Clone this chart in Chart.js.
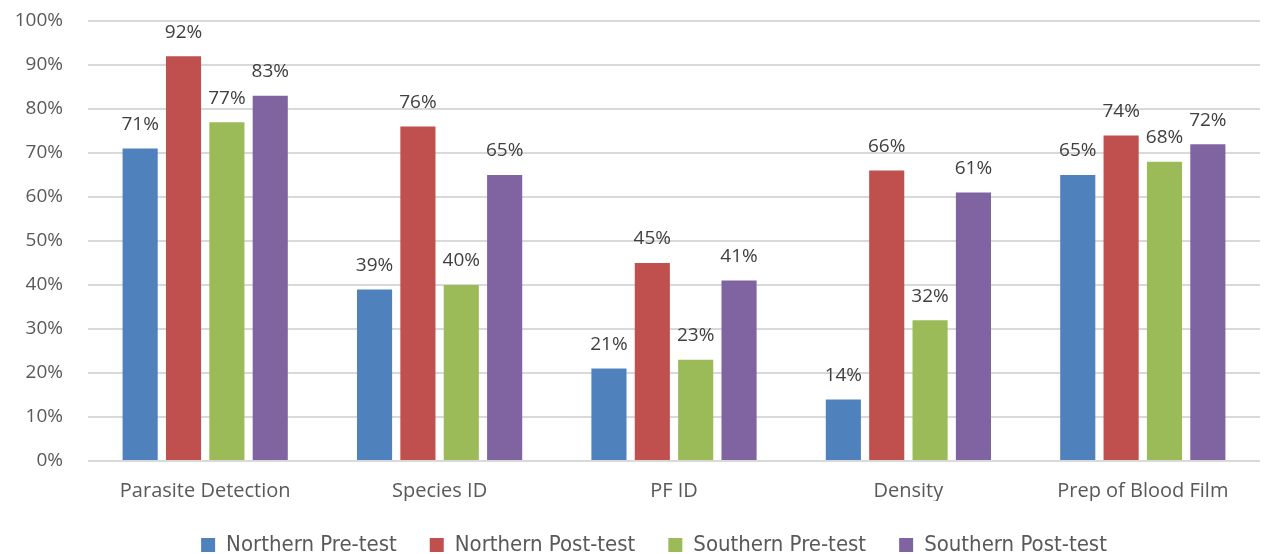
<!DOCTYPE html>
<html lang="en">
<head>
<meta charset="UTF-8" />
<title>Skill scores by region</title>
<script src="https://cdn.jsdelivr.net/npm/chart.js"></script>
<style>
  html, body { margin: 0; padding: 0; background: #fff; overflow: hidden; }
  #wrap { width: 1267px; height: 566px; }
</style>
</head>
<body>
<div id="wrap"><canvas id="scores"></canvas></div>
<script>
const categories = ["Parasite Detection", "Species ID", "PF ID", "Density", "Prep of Blood Film"];
const northernPre = [71, 39, 21, 14, 65];
const northernPost = [92, 76, 45, 66, 74];
const southernPre = [77, 40, 23, 32, 68];
const southernPost = [83, 65, 41, 61, 72];
const seriesNames = ["Northern Pre-test", "Northern Post-test", "Southern Pre-test", "Southern Post-test"];
const seriesColors = ["#4F81BD", "#C0504D", "#9BBB59", "#8064A2"];

const FONT = "'Open Sans', 'Noto Sans', sans-serif";

// percent labels over each bar
const valueLabels = {
  id: "valueLabels",
  afterDatasetsDraw(chart) {
    const ctx = chart.ctx;
    ctx.save();
    ctx.font = "19px " + FONT;
    ctx.fillStyle = "#404040";
    ctx.textAlign = "center";
    ctx.textBaseline = "middle";
    chart.data.datasets.forEach((ds, i) => {
      chart.getDatasetMeta(i).data.forEach((bar, j) => {
        ctx.fillText(ds.data[j] + "%", bar.x, bar.y - 24);
      });
    });
    ctx.restore();
  }
};

// nudge the legend row a bit to the right
const legendShift = {
  id: "legendShift",
  afterLayout(chart) {
    chart.legend.left += 24;
    chart.legend.right += 24;
  }
};

const allSeries = [northernPre, northernPost, southernPre, southernPost];

new Chart(document.getElementById("scores"), {
  type: "bar",
  data: {
    labels: categories,
    datasets: allSeries.map((vals, i) => ({
      label: seriesNames[i],
      data: vals,
      backgroundColor: seriesColors[i],
      barPercentage: 0.81,
      categoryPercentage: 0.74
    }))
  },
  options: {
    responsive: true,
    maintainAspectRatio: false,
    animation: false,
    layout: { padding: { top: 21, right: 7, left: 0, bottom: 0 } },
    scales: {
      x: {
        grid: { display: false, drawTicks: false },
        border: { display: false },
        ticks: { color: "#595959", font: { family: FONT, size: 20, lineHeight: 1 }, padding: 20 },
        afterFit: s => { s.height = 40; }
      },
      y: {
        min: 0,
        max: 100,
        ticks: {
          stepSize: 10,
          color: "#595959",
          font: { family: FONT, size: 19 },
          padding: 25,
          callback: v => v + "%"
        },
        grid: { color: "#d9d9d9", lineWidth: 2, drawTicks: false },
        border: { display: false },
        afterFit: s => { s.width = 88; s.paddingTop = 0; }
      }
    },
    plugins: {
      tooltip: { enabled: false },
      legend: {
        position: "bottom",
        labels: {
          color: "#595959",
          font: { family: "'DejaVu Sans Condensed', 'Liberation Sans Narrow', sans-serif", size: 22 },
          boxWidth: 14,
          boxHeight: 14,
          padding: 33
        }
      }
    }
  },
  plugins: [valueLabels, legendShift]
});
</script>
</body>
</html>
